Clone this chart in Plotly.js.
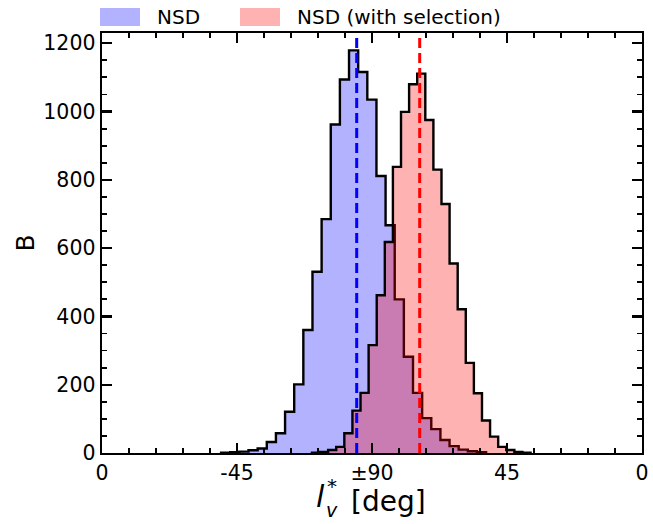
<!DOCTYPE html>
<html>
<head>
<meta charset="utf-8">
<script src="https://cdn.plot.ly/plotly-3.0.1.min.js"></script>
<style>html,body{margin:0;padding:0;background:#fff;}#chart{width:653px;height:524px;}</style>
</head>
<body>
<div id="chart"></div>
<script>
// ---- data ----
const blueBinStart = 39.70;   // deg, left edge of first bin (NSD)
const blueBinWidth = 3.046;   // deg
const blueCounts = [1, 2, 4, 8, 13, 32, 58, 121, 201, 360, 531, 685, 962, 1094, 1179,
                    1116, 1035, 811, 667, 450, 282, 176, 102, 70, 38, 20, 10, 5, 2];
const redBinStart = 69.98;    // deg (NSD with selection)
const redBinWidth = 2.699;    // deg
const redCounts = [1, 3, 9, 18, 58, 124, 176, 316, 462, 618, 838, 999, 1080, 1111,
                   975, 830, 729, 555, 421, 264, 175, 95, 48, 18, 9, 3, 1];
const blueMean = 84.9;
const redMean = 105.9;
const xTickVals = [0, 45, 90, 135, 180];
const xTickText = ["0", "-45", "\u00b190", "45", "0"];
const yTickVals = [0, 200, 400, 600, 800, 1000, 1200];
const seriesNames = ["NSD", "NSD (with selection)"];

function stepTrace(start, width, counts, fill, name) {
  const x = [start], y = [0];
  for (let i = 0; i <= counts.length; i++) {
    x.push(start + i * width);
    y.push(i < counts.length ? counts[i] : 0);
  }
  return {
    type: 'scatter', mode: 'lines', x: x, y: y, name: name,
    line: {shape: 'hv', color: '#000', width: 2.4},
    fill: 'tozeroy', fillcolor: fill, showlegend: false, hoverinfo: 'skip'
  };
}

const traces = [
  stepTrace(blueBinStart, blueBinWidth, blueCounts, 'rgba(0,0,255,0.3)', seriesNames[0]),
  stepTrace(redBinStart, redBinWidth, redCounts, 'rgba(255,0,0,0.3)', seriesNames[1])
];

const L = 102, R = 642, T = 33, B = 453;
const W = 653, H = 524;
const pw = R - L, ph = B - T;
const px = v => (v - L) / pw;      // pixel -> paper x
const py = v => (B - v) / ph;      // pixel -> paper y

const font = "DejaVu Sans, Liberation Sans, sans-serif";

const layout = {
  width: W, height: H,
  margin: {l: L, r: W - R, t: T, b: H - B, pad: 0},
  paper_bgcolor: '#fff', plot_bgcolor: '#fff',
  showlegend: false,
  font: {family: font, color: '#000', size: 20},
  xaxis: {
    range: [0, 180], tickvals: xTickVals, ticktext: xTickText,
    ticks: 'inside', ticklen: 10, tickwidth: 2.2, tickcolor: '#000',
    showline: true, linecolor: '#000', linewidth: 2.4, mirror: 'ticks',
    showgrid: false, zeroline: false,
    tickfont: {family: font, size: 20.5, color: '#000'},
    minor: {dtick: 9, tick0: 0, ticks: 'inside', ticklen: 5, tickwidth: 1.8, tickcolor: '#000', showgrid: false}
  },
  yaxis: {
    range: [0, 1230], tickvals: yTickVals,
    ticks: 'inside', ticklen: 10, tickwidth: 2.2, tickcolor: '#000',
    showline: true, linecolor: '#000', linewidth: 2.4, mirror: 'ticks',
    showgrid: false, zeroline: false,
    tickfont: {family: font, size: 20.5, color: '#000'},
    title: {text: 'B', font: {family: font, size: 25, color: '#000'}, standoff: 2},
    minor: {dtick: 50, ticks: 'inside', ticklen: 5, tickwidth: 1.8, tickcolor: '#000', showgrid: false}
  },
  shapes: [
    {type: 'line', xref: 'x', yref: 'paper', x0: blueMean, x1: blueMean, y0: 0, y1: 1,
     line: {color: '#0000ff', width: 3, dash: '10px,5px'}, layer: 'above'},
    {type: 'line', xref: 'x', yref: 'paper', x0: redMean, x1: redMean, y0: 0, y1: 1,
     line: {color: '#ff0000', width: 3, dash: '10px,5px'}, layer: 'above'},
    // legend patches
    {type: 'rect', xref: 'paper', yref: 'paper', x0: px(100), x1: px(140), y0: py(26), y1: py(8),
     fillcolor: 'rgba(0,0,255,0.3)', line: {width: 0}},
    {type: 'rect', xref: 'paper', yref: 'paper', x0: px(240), x1: px(280), y0: py(26), y1: py(8),
     fillcolor: 'rgba(255,0,0,0.3)', line: {width: 0}}
  ],
  annotations: [
    {xref: 'paper', yref: 'paper', x: px(155), y: py(17), xanchor: 'left', yanchor: 'middle',
     text: seriesNames[0], showarrow: false, font: {family: font, size: 20, color: '#000'}},
    {xref: 'paper', yref: 'paper', x: px(295), y: py(17), xanchor: 'left', yanchor: 'middle',
     text: seriesNames[1], showarrow: false, font: {family: font, size: 20, color: '#000'}},
    // x-axis title: l_v^* [deg]
    {xref: 'paper', yref: 'paper', x: px(320), y: py(496), xanchor: 'center', yanchor: 'middle',
     text: '<i>l</i>', showarrow: false, font: {family: font, size: 30, color: '#000'}},
    {xref: 'paper', yref: 'paper', x: px(324), y: py(510), xanchor: 'left', yanchor: 'middle',
     text: '<i>v</i>', showarrow: false, font: {family: font, size: 19, color: '#000'}},
    {xref: 'paper', yref: 'paper', x: px(325), y: py(486), xanchor: 'left', yanchor: 'middle',
     text: '*', showarrow: false, font: {family: font, size: 20, color: '#000'}},
    {xref: 'paper', yref: 'paper', x: px(349), y: py(501), xanchor: 'left', yanchor: 'middle',
     text: '[deg]', showarrow: false, font: {family: font, size: 28, color: '#000'}}
  ]
};

Plotly.newPlot('chart', traces, layout, {displayModeBar: false, staticPlot: true});
</script>
</body>
</html>
